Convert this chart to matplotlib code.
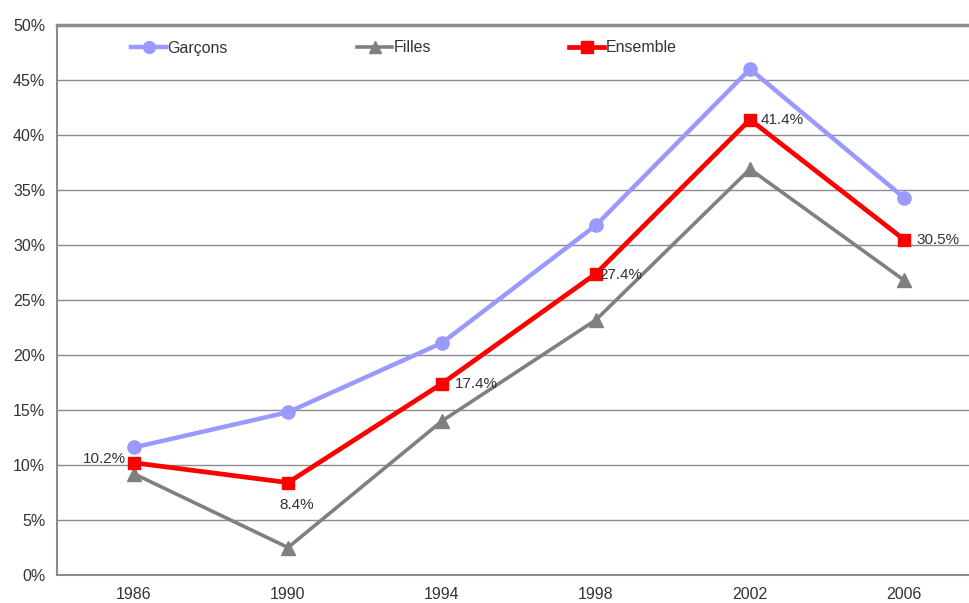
import matplotlib
matplotlib.use("Agg")
import matplotlib.pyplot as plt
from matplotlib.lines import Line2D

years = ["1986", "1990", "1994", "1998", "2002", "2006"]
garcons = [11.6, 14.8, 21.1, 31.8, 46.0, 34.3]
filles = [9.2, 2.5, 14.0, 23.2, 36.9, 26.8]
ensemble = [10.2, 8.4, 17.4, 27.4, 41.4, 30.5]
y_ticks = [0, 5, 10, 15, 20, 25, 30, 35, 40, 45, 50]

plt.rcParams["font.family"] = ["Liberation Sans", "DejaVu Sans"]
text_col = "#333333"

fig = plt.figure(figsize=(9.70, 6.03), dpi=100)
W, H = 970, 603
# plot area runs past the right edge of the figure
ax = fig.add_axes([57 / W, (H - 575) / H, 924 / W, 550 / H])

x = list(range(len(years)))
ax.set_xlim(-0.5, len(years) - 0.5)
ax.set_ylim(0, 50)

for t in y_ticks[1:-1]:
    ax.axhline(t, color="#8c8c8c", lw=1.0, zorder=1)

ax.plot(x, garcons, color="#9999ff", lw=3.2, marker="o", ms=9.5, zorder=3)
ax.plot(x, filles, color="#808080", lw=2.6, marker="^", ms=9.5, zorder=3)
ax.plot(x, ensemble, color="#ff0000", lw=3.4, marker="s", ms=9, zorder=4)

# value labels for the whole-population series
offsets = [(-6, 3, "right", "center"), (6, -11, "center", "top"),
           (9, 0, "left", "center"), (2, -1, "left", "center"),
           (8, 0, "left", "center"), (9, 0, "left", "center")]
for xi, v, (dx, dy, ha, va) in zip(x, ensemble, offsets):
    ax.annotate(f"{v:.1f}%", (xi, v), xytext=(dx, dy), textcoords="offset points",
                ha=ha, va=va, fontsize=11, color=text_col, zorder=5)

ax.set_xticks(x)
ax.set_xticklabels(years)
ax.set_yticks(y_ticks)
ax.set_yticklabels([f"{t}%" for t in y_ticks])
ax.tick_params(axis="both", length=0, labelsize=11.5, labelcolor=text_col)
ax.tick_params(axis="x", pad=8.5)
ax.tick_params(axis="y", pad=8.5)

for side in ["left", "bottom"]:
    ax.spines[side].set_color("#8c8c8c")
    ax.spines[side].set_linewidth(1.5)
ax.spines["top"].set_color("#8c8c8c")
ax.spines["top"].set_linewidth(2.5)
ax.spines["right"].set_visible(False)

# legend: three separately placed entries
entries = [
    ("Garçons", dict(color="#9999ff", lw=3.2, marker="o", ms=8.5), 131),
    ("Filles", dict(color="#808080", lw=2.6, marker="^", ms=8.5), 357),
    ("Ensemble", dict(color="#ff0000", lw=3.4, marker="s", ms=8.5), 569),
]
for label, style, px in entries:
    h = Line2D([], [], **style)
    leg = fig.legend([h], [label], loc="center left",
                     bbox_to_anchor=(px / W, (H - 48) / H),
                     frameon=False, fontsize=11.5, handlelength=2.2,
                     handletextpad=0.1, borderaxespad=0, borderpad=0)
    for t in leg.get_texts():
        t.set_color(text_col)

fig.savefig("out.png", dpi=100)
